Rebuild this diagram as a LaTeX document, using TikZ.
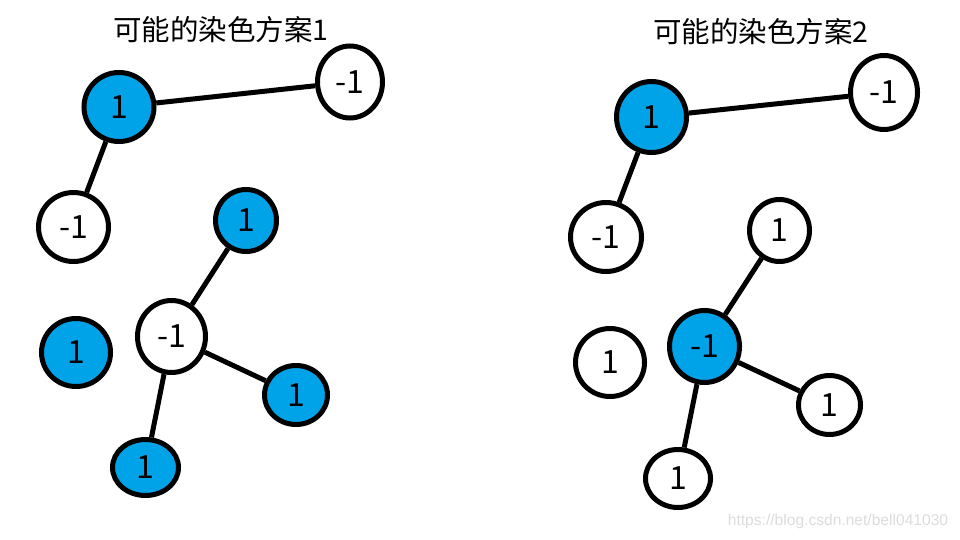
\documentclass[tikz,border=0pt]{standalone}
\usepackage{fontspec}
\setmainfont{Noto Sans CJK SC}
\newfontfamily\wmfont{Liberation Sans}
\usetikzlibrary{shapes.geometric}
\definecolor{paintblue}{HTML}{00A2E8}
\definecolor{wmgrey}{HTML}{DCDCDC}
\tikzset{
  vtx/.style={ellipse, draw=black, line width=5pt, inner sep=0pt, font=\fontsize{32}{32}\selectfont},
  bluevtx/.style={vtx, fill=paintblue},
  whitevtx/.style={vtx, fill=white},
  edge/.style={line width=5pt, draw=black},
  ttl/.style={font=\fontsize{28.5}{28.5}\selectfont, inner sep=0pt}
}
\begin{document}
\begin{tikzpicture}[x=1pt, y=-1pt]
\useasboundingbox (0,0) rectangle (960,540);
% titles
\node[ttl] (t1) at (221,30) {可能的染色方案1};
\node[ttl] (t2) at (761,32) {可能的染色方案2};
% left scheme
\node[bluevtx, minimum width=70pt, minimum height=69pt] (a1) at (119,107) {1};
\node[whitevtx, minimum width=65pt, minimum height=72pt] (b1) at (350,82) {-1};
\node[whitevtx, minimum width=70pt, minimum height=69pt] (c1) at (73.5,227) {-1};
\node[bluevtx, minimum width=61pt, minimum height=62pt] (d1) at (246,220.5) {1};
\node[whitevtx, minimum width=68pt, minimum height=72pt] (e1) at (171.5,336.5) {-1};
\node[bluevtx, minimum width=69pt, minimum height=68pt] (f1) at (76,352.5) {1};
\node[bluevtx, minimum width=63pt, minimum height=59pt] (g1) at (296,395) {1};
\node[bluevtx, minimum width=66pt, minimum height=56pt] (h1) at (145.5,467.5) {1};
% right scheme
\node[bluevtx, minimum width=70pt, minimum height=71pt] (a2) at (651.5,117) {1};
\node[whitevtx, minimum width=67pt, minimum height=74pt] (b2) at (884,92.5) {-1};
\node[whitevtx, minimum width=71pt, minimum height=69pt] (c2) at (606,237) {-1};
\node[whitevtx, minimum width=60pt, minimum height=62pt] (d2) at (779.5,230.5) {1};
\node[bluevtx, minimum width=70pt, minimum height=72pt] (e2) at (704.5,346.5) {-1};
\node[whitevtx, minimum width=69pt, minimum height=68pt] (f2) at (610,362.5) {1};
\node[whitevtx, minimum width=62pt, minimum height=59pt] (g2) at (829.5,405) {1};
\node[whitevtx, minimum width=65pt, minimum height=58pt] (h2) at (678,478.5) {1};
% edges
\draw[edge] (a1) -- (b1);
\draw[edge] (a1) -- (c1);
\draw[edge] (e1) -- (d1);
\draw[edge] (e1) -- (g1);
\draw[edge] (e1) -- (h1);
\draw[edge] (a2) -- (b2);
\draw[edge] (a2) -- (c2);
\draw[edge] (e2) -- (d2);
\draw[edge] (e2) -- (g2);
\draw[edge] (e2) -- (h2);
% watermark
\node[font=\wmfont\fontsize{15.6}{15.6}\selectfont, text=wmgrey, inner sep=0pt] (wm) at (838,521) {https://blog.csdn.net/bell041030};
\end{tikzpicture}
\end{document}
